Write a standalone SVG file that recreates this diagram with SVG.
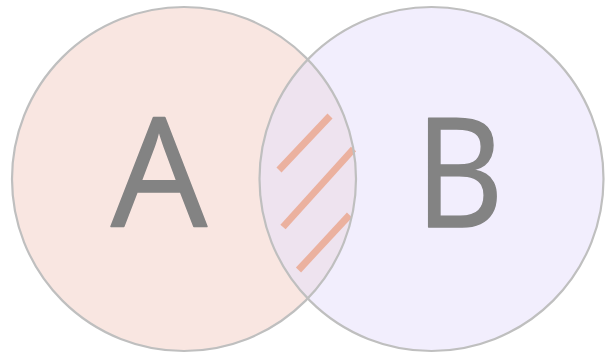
<svg xmlns="http://www.w3.org/2000/svg" width="605" height="355" viewBox="0 0 605 355">
<style>
.lbl{font-family:"Open Sans","Liberation Sans",sans-serif;font-size:152px;fill:#838383;stroke:#838383;stroke-width:1.5;stroke-linejoin:round;text-anchor:middle}
.hatch{stroke:#ebb19f;stroke-width:7;fill:none}
.ring{fill:none;stroke:#bfbfbf;stroke-width:2.2}
</style>
<rect width="605" height="355" fill="#ffffff"/>
<g id="setA">
<circle cx="184" cy="179" r="172" fill="#f9e6e1"/>
</g>
<g id="setB">
<circle cx="431.5" cy="179" r="172" fill="#f2eefd"/>
</g>
<g id="overlap">
<path d="M307.7,59.5 A172,172 0 0,1 307.7,298.5 A172,172 0 0,1 307.7,59.5 Z" fill="#eee3ef"/>
<line class="hatch" x1="279" y1="170" x2="330" y2="116"/>
<line class="hatch" x1="283" y1="227" x2="353.5" y2="149"/>
<line class="hatch" x1="298.5" y1="270" x2="349.5" y2="215"/>
</g>
<g id="outlines">
<circle class="ring" cx="184" cy="179" r="172"/>
<circle class="ring" cx="431.5" cy="179" r="172"/>
</g>
<text class="lbl" x="159" y="226.5">A</text>
<text class="lbl" transform="translate(459.5 226.5) scale(0.9 1)">B</text>
</svg>
